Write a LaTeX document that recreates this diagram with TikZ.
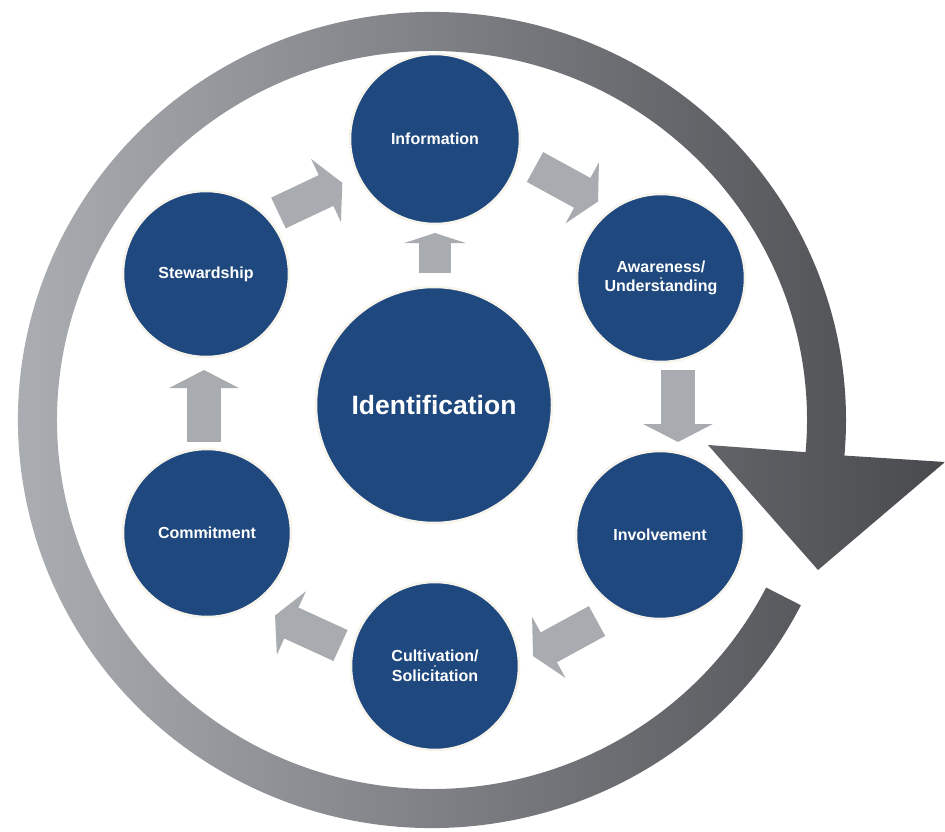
\documentclass[tikz,border=0pt]{standalone}
\usepackage{fontspec}
\setmainfont{Liberation Sans}
\usetikzlibrary{arrows.meta,calc}
\definecolor{stageblue}{RGB}{31,72,126}
\definecolor{rim}{RGB}{247,244,236}
\definecolor{halo}{RGB}{212,206,194}
\definecolor{flowgray}{RGB}{168,171,175}
\definecolor{ringlight}{RGB}{176,179,183}
\definecolor{ringdark}{RGB}{72,74,78}
\tikzset{
  stage/.style={circle, fill=stageblue, draw=rim, line width=2.5pt,
    minimum size=#1, inner sep=0pt, text=white, align=center,
    font=\bfseries\fontsize{16}{19.5}\selectfont},
  halo/.style={draw=halo, line width=0.8pt},
  flow/.style={draw=flowgray, line width=34pt,
    -{Triangle[width=69pt,length=18pt]}},
  shortflow/.style={draw=flowgray, line width=32pt,
    -{Triangle[width=61pt,length=10pt]}},
}
\begin{document}
\begin{tikzpicture}[x=1pt,y=-1pt]
\useasboundingbox (0,0) rectangle (945,832);
\fill[white] (0,0) rectangle (945,832);

% outer cycle arrow with its head at the right
\coordinate (ctr) at (432,420);
\shade[left color=ringlight, right color=ringdark]
  ($(ctr)+(27:414 and 408)$)
  arc[start angle=27, end angle=365, x radius=414, y radius=408]
  -- (945,462) -- (818,570) -- (708,445)
  -- ($(ctr)+(365:375 and 369)$)
  arc[start angle=365, end angle=27, x radius=375, y radius=369]
  -- cycle;

% stages
\node[stage=170pt] (info)    at (435,139) {Information};
\node[stage=168pt] (aware)   at (661,278) {Awareness/\\Understanding};
\node[stage=168pt] (involve) at (660,535) {Involvement};
\node[stage=168pt] (cultiv)  at (435,666) {Cultivation/\\Solicitation};
\node[stage=168pt] (commit)  at (207,533) {Commitment};
\node[stage=166pt] (steward) at (206,274) {Stewardship};
\node[stage=236pt, font=\bfseries\fontsize{26.5}{30}\selectfont] (ident) at (434,405) {Identification};
\foreach \n in {info,aware,involve,cultiv,commit,steward,ident}
  \draw[halo] (\n.center) circle[radius={\pgfkeysvalueof{/pgf/minimum width}/2}];

% block arrows between the stages
\coordinate (a1t) at (435,273);   \coordinate (a1h) at (435,233);
\coordinate (a2t) at (535,167);   \coordinate (a2h) at (598,201.5);
\coordinate (a3t) at (678,370);   \coordinate (a3h) at (678,442);
\coordinate (a4t) at (597,621);   \coordinate (a4h) at (533,656);
\coordinate (a5t) at (340.5,645.5); \coordinate (a5h) at (275,615.5);
\coordinate (a6t) at (204,442);   \coordinate (a6h) at (204,370);
\coordinate (a7t) at (278.5,213); \coordinate (a7h) at (342.3,182.8);
\draw[shortflow] (a1t) -- (a1h);
\draw[flow] (a2t) -- (a2h);
\draw[flow] (a3t) -- (a3h);
\draw[flow] (a4t) -- (a4h);
\draw[flow] (a5t) -- (a5h);
\draw[flow] (a6t) -- (a6h);
\draw[flow] (a7t) -- (a7h);
\end{tikzpicture}
\end{document}
